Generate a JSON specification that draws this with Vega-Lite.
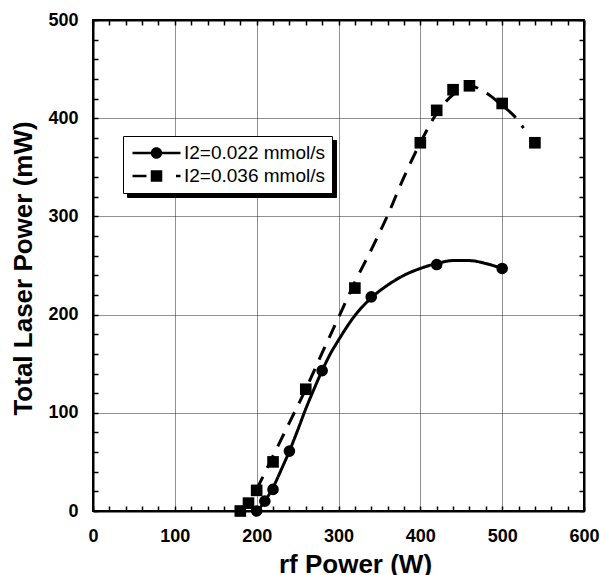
{
  "$schema": "https://vega.github.io/schema/vega-lite/v6.json",
  "width": 491,
  "height": 491,
  "autosize": {"type": "none"},
  "padding": {"left": 93, "top": 20, "right": 16, "bottom": 64},
  "background": "white",
  "config": {
    "view": {"stroke": "black", "strokeWidth": 2},
    "axis": {
      "labelFont": "Liberation Sans",
      "labelFontWeight": "bold",
      "labelFontSize": 18,
      "labelColor": "black",
      "titleFont": "Liberation Sans",
      "titleFontWeight": "bold",
      "titleFontSize": 26,
      "titleColor": "black",
      "tickColor": "black",
      "tickWidth": 1.5,
      "tickSize": -5,
      "domainColor": "black",
      "domainWidth": 2,
      "gridColor": "#222222",
      "gridDash": [1, 1],
      "gridWidth": 1,
      "labelOverlap": false,
      "labelFlush": false
    },
    "legend": {
      "title": null,
      "orient": "none",
      "symbolSize": 400,
      "symbolOpacity": 1,
      "symbolStrokeWidth": 0,
      "labelFont": "Liberation Sans",
      "labelFontSize": 19,
      "labelColor": "black",
      "labelOffset": 34,
      "rowPadding": 3,
      "padding": 7
    }
  },
  "datasets": {
    "fits": [
      {"x": 203, "y": 2, "curve": "I2=0.022 mmol/s"},
      {"x": 210, "y": 10, "curve": "I2=0.022 mmol/s"},
      {"x": 220, "y": 24, "curve": "I2=0.022 mmol/s"},
      {"x": 230, "y": 42, "curve": "I2=0.022 mmol/s"},
      {"x": 240, "y": 61, "curve": "I2=0.022 mmol/s"},
      {"x": 250, "y": 82, "curve": "I2=0.022 mmol/s"},
      {"x": 260, "y": 104, "curve": "I2=0.022 mmol/s"},
      {"x": 270, "y": 124, "curve": "I2=0.022 mmol/s"},
      {"x": 280, "y": 143, "curve": "I2=0.022 mmol/s"},
      {"x": 290, "y": 160, "curve": "I2=0.022 mmol/s"},
      {"x": 300, "y": 174, "curve": "I2=0.022 mmol/s"},
      {"x": 320, "y": 199, "curve": "I2=0.022 mmol/s"},
      {"x": 340, "y": 217, "curve": "I2=0.022 mmol/s"},
      {"x": 360, "y": 230, "curve": "I2=0.022 mmol/s"},
      {"x": 380, "y": 240, "curve": "I2=0.022 mmol/s"},
      {"x": 400, "y": 247, "curve": "I2=0.022 mmol/s"},
      {"x": 420, "y": 252, "curve": "I2=0.022 mmol/s"},
      {"x": 440, "y": 255, "curve": "I2=0.022 mmol/s"},
      {"x": 460, "y": 255, "curve": "I2=0.022 mmol/s"},
      {"x": 480, "y": 252, "curve": "I2=0.022 mmol/s"},
      {"x": 500, "y": 247, "curve": "I2=0.022 mmol/s"},
      {"x": 200, "y": 22, "curve": "I2=0.036 mmol/s"},
      {"x": 220, "y": 56, "curve": "I2=0.036 mmol/s"},
      {"x": 240, "y": 90, "curve": "I2=0.036 mmol/s"},
      {"x": 260, "y": 124, "curve": "I2=0.036 mmol/s"},
      {"x": 280, "y": 161, "curve": "I2=0.036 mmol/s"},
      {"x": 300, "y": 197, "curve": "I2=0.036 mmol/s"},
      {"x": 320, "y": 233, "curve": "I2=0.036 mmol/s"},
      {"x": 340, "y": 266, "curve": "I2=0.036 mmol/s"},
      {"x": 360, "y": 301, "curve": "I2=0.036 mmol/s"},
      {"x": 380, "y": 340, "curve": "I2=0.036 mmol/s"},
      {"x": 400, "y": 375, "curve": "I2=0.036 mmol/s"},
      {"x": 420, "y": 405, "curve": "I2=0.036 mmol/s"},
      {"x": 440, "y": 424, "curve": "I2=0.036 mmol/s"},
      {"x": 460, "y": 433, "curve": "I2=0.036 mmol/s"},
      {"x": 480, "y": 426, "curve": "I2=0.036 mmol/s"},
      {"x": 500, "y": 413, "curve": "I2=0.036 mmol/s"},
      {"x": 515, "y": 402, "curve": "I2=0.036 mmol/s"},
      {"x": 526, "y": 390, "curve": "I2=0.036 mmol/s"}
    ],
    "points": [
      {"x": 200, "y": 0, "series": "I2=0.022 mmol/s"},
      {"x": 210, "y": 10, "series": "I2=0.022 mmol/s"},
      {"x": 220, "y": 22, "series": "I2=0.022 mmol/s"},
      {"x": 240, "y": 61, "series": "I2=0.022 mmol/s"},
      {"x": 280, "y": 143, "series": "I2=0.022 mmol/s"},
      {"x": 340, "y": 218, "series": "I2=0.022 mmol/s"},
      {"x": 420, "y": 251, "series": "I2=0.022 mmol/s"},
      {"x": 500, "y": 247, "series": "I2=0.022 mmol/s"},
      {"x": 180, "y": 0, "series": "I2=0.036 mmol/s"},
      {"x": 190, "y": 8, "series": "I2=0.036 mmol/s"},
      {"x": 200, "y": 21, "series": "I2=0.036 mmol/s"},
      {"x": 220, "y": 50, "series": "I2=0.036 mmol/s"},
      {"x": 260, "y": 124, "series": "I2=0.036 mmol/s"},
      {"x": 320, "y": 227, "series": "I2=0.036 mmol/s"},
      {"x": 400, "y": 375, "series": "I2=0.036 mmol/s"},
      {"x": 420, "y": 408, "series": "I2=0.036 mmol/s"},
      {"x": 440, "y": 429, "series": "I2=0.036 mmol/s"},
      {"x": 460, "y": 433, "series": "I2=0.036 mmol/s"},
      {"x": 500, "y": 415, "series": "I2=0.036 mmol/s"},
      {"x": 540, "y": 375, "series": "I2=0.036 mmol/s"}
    ]
  },
  "layer": [
    {
      "data": {"name": "fits"},
      "mark": {"type": "line", "interpolate": "monotone", "strokeWidth": 3, "color": "black"},
      "encoding": {
        "x": {
          "field": "x", "type": "quantitative",
          "scale": {"domain": [0, 600], "nice": false, "zero": false},
          "axis": {
            "orient": "bottom",
            "title": "rf Power (W)",
            "values": [0,20,40,60,80,100,120,140,160,180,200,220,240,260,280,300,320,340,360,380,400,420,440,460,480,500,520,540,560,580,600],
            "labelExpr": "datum.value % 100 === 0 ? datum.label : ''",
            "labelPadding": 21,
            "grid": true,
            "gridOpacity": {"condition": {"test": "datum.value % 100 === 0", "value": 1}, "value": 0},
            "titleX": 262,
            "titleY": 40
          }
        },
        "y": {
          "field": "y", "type": "quantitative",
          "scale": {"domain": [0, 500], "nice": false},
          "axis": {
            "orient": "left",
            "title": "Total Laser Power (mW)",
            "values": [0,20,40,60,80,100,120,140,160,180,200,220,240,260,280,300,320,340,360,380,400,420,440,460,480,500],
            "labelExpr": "datum.value % 100 === 0 ? datum.label : ''",
            "labelPadding": 20,
            "grid": true,
            "gridOpacity": {"condition": {"test": "datum.value % 100 === 0", "value": 1}, "value": 0},
            "titleX": -57,
            "titleY": 248
          }
        },
        "strokeDash": {
          "field": "curve", "type": "nominal",
          "scale": {"range": [[1, 0], [14, 10]]},
          "legend": null
        }
      }
    },
    {
      "data": {"name": "points"},
      "mark": {"type": "point", "filled": true, "color": "black", "opacity": 1, "size": 135},
      "encoding": {
        "x": {
          "field": "x", "type": "quantitative",
          "axis": {
            "orient": "top",
            "title": null,
            "labels": false,
            "grid": false,
            "values": [0,20,40,60,80,100,120,140,160,180,200,220,240,260,280,300,320,340,360,380,400,420,440,460,480,500,520,540,560,580,600]
          }
        },
        "y": {
          "field": "y", "type": "quantitative",
          "axis": {
            "orient": "right",
            "title": null,
            "labels": false,
            "grid": false,
            "values": [0,20,40,60,80,100,120,140,160,180,200,220,240,260,280,300,320,340,360,380,400,420,440,460,480,500]
          }
        },
        "shape": {
          "field": "series", "type": "nominal",
          "scale": {"domain": ["I2=0.022 mmol/s", "I2=0.036 mmol/s"], "range": ["circle", "square"]},
          "legend": {
            "legendX": 34,
            "legendY": 120,
            "zindex": 1,
            "fillColor": "black",
            "strokeColor": "black",
            "labelColor": "black"
          }
        }
      }
    },
    {
      "data": {"name": "fits"},
      "mark": {"type": "point", "filled": true, "color": "black", "opacity": 0},
      "encoding": {
        "x": {"field": "x", "type": "quantitative", "axis": null},
        "y": {"field": "y", "type": "quantitative", "axis": null},
        "shape": {
          "field": "curve", "type": "nominal",
          "scale": {
            "domain": ["I2=0.022 mmol/s", "I2=0.036 mmol/s"],
            "range": [
              "M-0.75,-0.13H4.05V0.13H-0.75Z M2.225,0A0.575,0.575,0,1,1,1.075,0A0.575,0.575,0,1,1,2.225,0Z",
              "M-0.75,-0.13H0.65V0.13H-0.75Z M1.075,-0.575H2.225V0.575H1.075Z M3.6,-0.13H4.05V0.13H3.6Z"
            ]
          },
          "legend": {
            "legendX": 30,
            "legendY": 116,
            "zindex": 2,
            "fillColor": "white",
            "strokeColor": "black",
            "labelColor": "black",
            "symbolFillColor": "black",
            "symbolOpacity": 1
          }
        }
      }
    }
  ],
  "resolve": {"axis": {"x": "independent", "y": "independent"}, "scale": {"shape": "independent"}}
}
